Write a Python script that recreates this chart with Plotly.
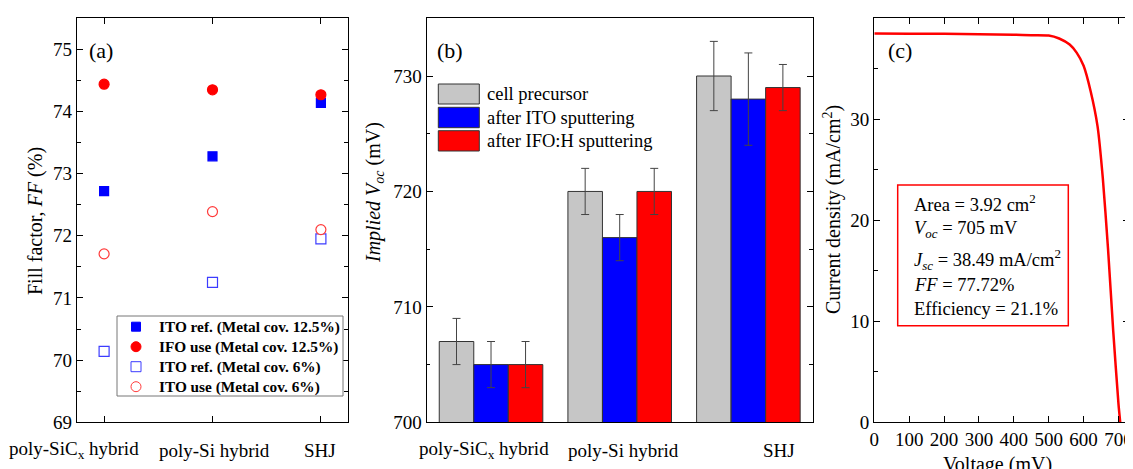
"""Three-panel figure: fill factor, implied Voc bars and J-V curve."""

import plotly.graph_objects as go

W, H = 1133, 469
OFF = 8  # page body margin the figure is drawn with
FONT = "Liberation Serif"

# ---- data -------------------------------------------------------------
cell_types = ["poly-SiCx hybrid", "poly-Si hybrid", "SHJ"]
cell_labels = ["poly-SiC<sub>x</sub> hybrid", "poly-Si hybrid", "SHJ"]

# (a) fill factor (%)
ff_names = [
    "ITO ref. (Metal cov. 12.5%)",
    "IFO use (Metal cov. 12.5%)",
    "ITO ref. (Metal cov. 6%)",
    "ITO use (Metal cov. 6%)",
]
ff_ito_125 = [72.72, 73.28, 74.14]
ff_ifo_125 = [74.44, 74.35, 74.27]
ff_ito_6 = [70.14, 71.25, 71.95]
ff_ito_use_6 = [71.71, 72.39, 72.10]

# (b) implied Voc (mV) with error bars
voc_names = ["cell precursor", "after ITO sputtering", "after IFO:H sputtering"]
voc_precursor = [707, 720, 730]
voc_precursor_err = [2, 2, 3]
voc_ito = [705, 716, 728]
voc_ito_err = [2, 2, 4]
voc_ifo = [705, 720, 729]
voc_ifo_err = [2, 2, 2]

# (c) J-V curve
jv_voltage = [0, 100, 200, 300, 400, 450, 500, 530, 560, 580, 600, 620,
              640, 655, 670, 685, 700, 705]
jv_current = [38.49, 38.48, 38.46, 38.43, 38.38, 38.33, 38.30, 38.0, 37.4,
              36.6, 35.3, 32.8, 29.3, 24.2, 17.2, 9.0, 1.8, 0.0]


def px(x):
    return (x - OFF) / W


def py(y):
    return 1 - (y - OFF) / H


fig = go.Figure()
shapes = []
ann = []

# ---- (a) ---------------------------------------------------------------
ff_styles = [
    dict(symbol="square", color="#0000ff", size=9, shape="rect", fill=True),
    dict(symbol="circle", color="#ff0000", size=10, shape="circle", fill=True),
    dict(symbol="square", color="#3c3cff", size=10, shape="rect", fill=False),
    dict(symbol="circle", color="#ff3a3a", size=10, shape="circle", fill=False),
]
for name, vals, st in zip(ff_names, [ff_ito_125, ff_ifo_125, ff_ito_6, ff_ito_use_6], ff_styles):
    fig.add_trace(go.Scatter(
        x=cell_types, y=vals, mode="markers", name=name, showlegend=False,
        marker=dict(symbol=st["symbol"], size=st["size"],
                    color=st["color"] if st["fill"] else "white",
                    line=dict(color=st["color"], width=1.2)),
        xaxis="x", yaxis="y",
    ))

# legend of (a), drawn by hand to match the boxed look
shapes.append(dict(type="rect", xref="paper", yref="paper",
                   x0=px(117), x1=px(343), y0=py(396), y1=py(316),
                   fillcolor="white", line=dict(color="#777777", width=1), layer="above"))
for i, (name, st) in enumerate(zip(ff_names, ff_styles)):
    yc = 326.7 + 20 * i
    h = st["size"] / 2
    shapes.append(dict(type=st["shape"], xref="paper", yref="paper",
                       xsizemode="pixel", ysizemode="pixel",
                       xanchor=px(136), yanchor=py(yc), x0=-h, x1=h, y0=-h, y1=h,
                       fillcolor=st["color"] if st["fill"] else "rgba(0,0,0,0)",
                       line=dict(color=st["color"], width=1), layer="above"))
    ann.append(dict(text=f"<b>{name}</b>", x=px(157), y=py(yc), xref="paper", yref="paper",
                    xanchor="left", yanchor="middle", showarrow=False,
                    font=dict(family=FONT, size=15.3)))

# ---- (b) ---------------------------------------------------------------
bar_colors = ["#c6c6c6", "#0000ff", "#ff0000"]
for name, vals, errs, col in zip(voc_names, [voc_precursor, voc_ito, voc_ifo],
                                  [voc_precursor_err, voc_ito_err, voc_ifo_err], bar_colors):
    fig.add_trace(go.Bar(
        x=cell_types, y=vals, name=name, showlegend=False,
        marker=dict(color=col, line=dict(color="#333333", width=1)),
        error_y=dict(type="data", array=errs, color="#444444", thickness=1, width=4),
        xaxis="x2", yaxis="y2",
    ))

# legend of (b)
rows = [(84, 104), (107.3, 127.7), (130.7, 151)]
for name, col, (y0, y1) in zip(voc_names, bar_colors, rows):
    shapes.append(dict(type="rect", xref="paper", yref="paper",
                       x0=px(438.3), x1=px(479.3), y0=py(y1), y1=py(y0),
                       fillcolor=col, line=dict(color="#333333", width=1)))
    ann.append(dict(text=name, x=px(485), y=py((y0 + y1) / 2), xref="paper", yref="paper",
                    xanchor="left", yanchor="middle", showarrow=False,
                    font=dict(family=FONT, size=18.5)))

# ---- (c) ---------------------------------------------------------------
fig.add_trace(go.Scatter(
    x=jv_voltage, y=jv_current, mode="lines", showlegend=False,
    line=dict(color="#ff0000", width=2.5, shape="spline", smoothing=0.6),
    xaxis="x3", yaxis="y3",
))

shapes.append(dict(type="rect", xref="paper", yref="paper",
                   x0=px(897.7), x1=px(1068.3), y0=py(325.7), y1=py(185),
                   line=dict(color="#ff0000", width=1.5), fillcolor="rgba(0,0,0,0)"))
info = [
    ("Area = 3.92 cm<sup>2</sup>", 203),
    ("<i>V</i><sub><i>oc</i></sub> = 705 mV", 229),
    ("<i>J</i><sub><i>sc</i></sub> = 38.49 mA/cm<sup>2</sup>", 259),
    ("<i>FF</i> = 77.72%", 285),
    ("Efficiency = 21.1%", 308.5),
]
for text, y in info:
    ann.append(dict(text=text, x=px(911.7), y=py(y), xref="paper", yref="paper",
                    xanchor="left", yanchor="middle", showarrow=False,
                    font=dict(family=FONT, size=18.5)))

# ---- axes --------------------------------------------------------------
ydom = [py(422.3), py(18.3)]
common = dict(
    showline=True, linecolor="black", linewidth=1.3, mirror="ticks",
    ticks="inside", ticklen=6, tickcolor="black", tickwidth=1.2,
    showgrid=False, zeroline=False, automargin=False,
    tickfont=dict(family=FONT, size=19, color="black"),
)
minor = dict(ticks="inside", ticklen=3.5, tickcolor="black", tickwidth=1.2, showgrid=False)

fig.update_layout(
    xaxis=dict(common, domain=[px(77), px(348)], anchor="y", range=[-0.25, 2.25],
               type="category", showticklabels=False),
    yaxis=dict(common, domain=ydom, anchor="x", range=[69, 75.5], dtick=1,
               minor=dict(minor, dtick=0.5)),
    xaxis2=dict(common, domain=[px(426.7), px(812.7)], anchor="y2", range=[-0.5, 2.5],
                type="category", showticklabels=False, ticks=""),
    yaxis2=dict(common, domain=ydom, anchor="x2", range=[700, 735], dtick=10,
                minor=dict(minor, dtick=5)),
    xaxis3=dict(common, domain=[px(874.3), px(1129.3)], anchor="y3", range=[0, 731],
                dtick=100),
    yaxis3=dict(common, domain=ydom, anchor="x3", range=[0, 40], dtick=10,
                minor=dict(minor, dtick=5)),
    barmode="group", bargap=0.195, bargroupgap=0,
    width=W, height=H,
    margin=dict(l=0, r=0, t=0, b=0),
    template="none",
    paper_bgcolor="white", plot_bgcolor="white",
    font=dict(family=FONT, size=19, color="black"),
    showlegend=False,
    hovermode=False,
)

# panel letters
for label, x in [("(a)", 87), ("(b)", 435), ("(c)", 886)]:
    ann.append(dict(text=label, x=px(x), y=py(50), xref="paper", yref="paper",
                    xanchor="left", yanchor="middle", showarrow=False,
                    font=dict(family=FONT, size=22)))

# axis titles
titles = [
    ("Fill factor, <i>FF</i> (%)", 35, 221),
    ("<i>Implied V</i><sub><i>oc</i></sub> (mV)", 374, 193),
    ("Current density (mA/cm<sup>2</sup>)", 832, 210),
]
for text, x, y in titles:
    ann.append(dict(text=text, x=px(x), y=py(y), xref="paper", yref="paper",
                    textangle=-90, xanchor="center", yanchor="middle", showarrow=False,
                    font=dict(family=FONT, size=20)))
ann.append(dict(text="Voltage (mV)", x=px(997), y=py(451), xref="paper", yref="paper",
                xanchor="center", yanchor="top", showarrow=False,
                font=dict(family=FONT, size=20)))

# category labels under (a) and (b)
for xref, shifts in [("x", [-30, 2, -1]), ("x2", [-7, 4, 31])]:
    for cat, lab, s in zip(cell_types, cell_labels, shifts):
        ann.append(dict(text=lab, x=cat, y=py(450), xref=xref, yref="paper",
                        xanchor="center", yanchor="middle", xshift=s, showarrow=False,
                        font=dict(family=FONT, size=19)))

fig.update_layout(annotations=ann, shapes=shapes)

fig.write_html("out.html")
